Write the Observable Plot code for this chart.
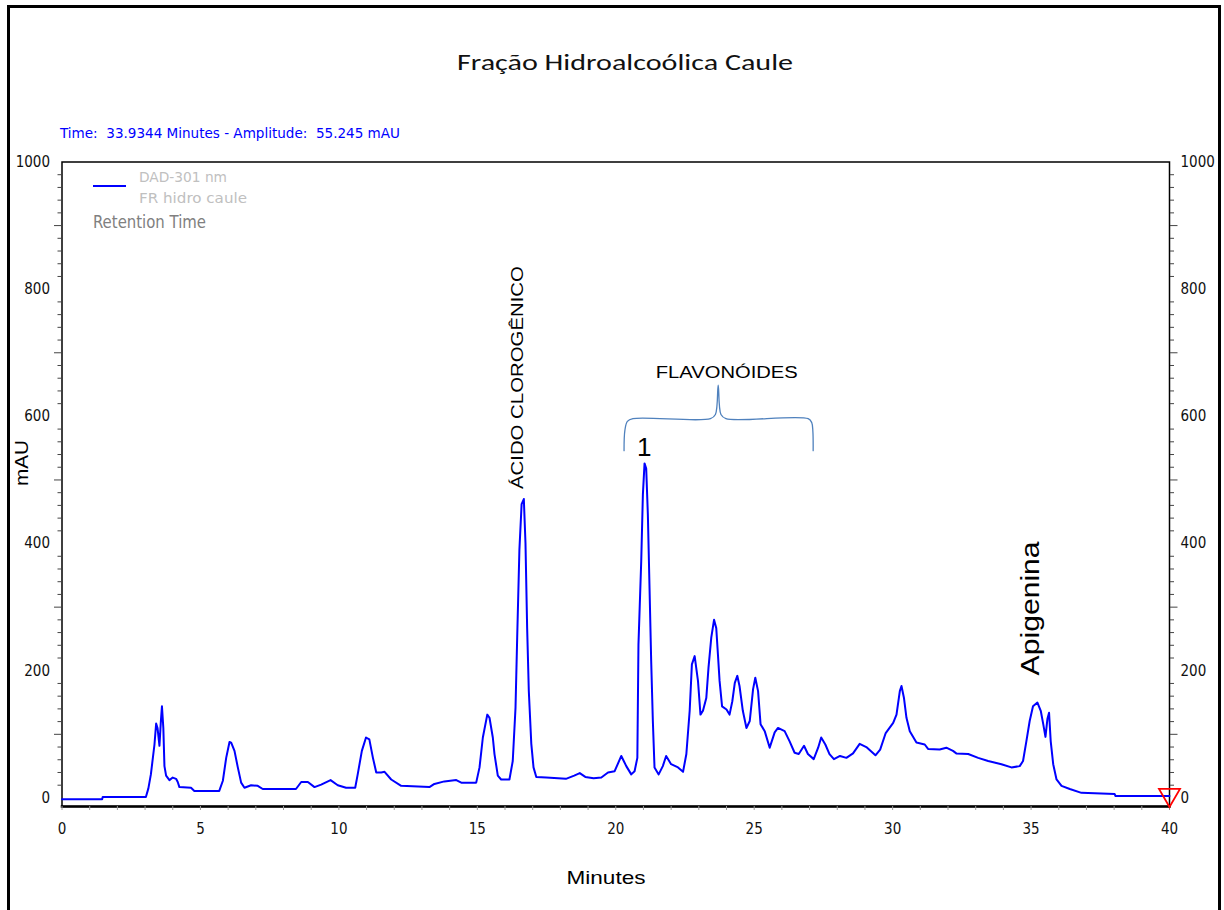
<!DOCTYPE html>
<html>
<head>
<meta charset="utf-8">
<script src="https://cdn.jsdelivr.net/npm/d3@7"></script>
<script src="https://cdn.jsdelivr.net/npm/@observablehq/plot@0.6"></script>
<style>
  body { margin: 0; background: #fff; }
  #wrap { position: relative; width: 1224px; height: 910px; overflow: hidden; background: #fff; }
  #border { position: absolute; left: 7px; top: 5px; width: 1208px; height: 960px; border: 3px solid #000; box-sizing: content-box; }
  #chart { position: absolute; left: 0; top: 0; }
</style>
</head>
<body>
<div id="wrap"><div id="border"></div><div id="chart"></div></div>
<script>
// ---- data (minutes, mAU) ----
const time = [0,1.45,1.47,3.03,3.12,3.21,3.34,3.40,3.45,3.52,3.57,3.61,3.66,3.70,3.76,3.88,4.00,4.12,4.18,4.24,4.66,4.78,5.68,5.81,5.93,6.05,6.11,6.23,6.35,6.47,6.59,6.83,7.07,7.25,8.45,8.64,8.88,9.12,9.36,9.70,9.96,10.26,10.59,10.68,10.83,10.98,11.10,11.23,11.35,11.53,11.65,11.89,12.25,13.27,13.45,13.81,14.24,14.42,14.96,15.08,15.20,15.36,15.44,15.56,15.62,15.74,15.86,16.16,16.28,16.38,16.44,16.52,16.60,16.68,16.74,16.80,16.86,16.95,17.03,17.13,17.49,18.2,18.5,18.7,18.9,19.2,19.48,19.72,19.96,20.20,20.38,20.56,20.68,20.78,20.82,20.92,20.98,21.04,21.10,21.16,21.22,21.28,21.34,21.40,21.55,21.70,21.82,22.00,22.25,22.43,22.55,22.67,22.75,22.85,22.97,23.06,23.15,23.27,23.35,23.45,23.55,23.63,23.69,23.75,23.84,24.00,24.11,24.21,24.30,24.39,24.47,24.59,24.72,24.84,24.96,25.04,25.14,25.23,25.38,25.56,25.74,25.86,26.10,26.28,26.46,26.61,26.80,26.94,27.15,27.31,27.42,27.57,27.72,27.88,28.10,28.33,28.57,28.81,29.05,29.38,29.55,29.75,30.02,30.14,30.26,30.32,30.41,30.50,30.62,30.86,31.16,31.28,31.70,31.94,32.18,32.30,32.73,33.09,33.45,33.93,34.29,34.59,34.71,34.83,34.95,35.07,35.23,35.35,35.44,35.52,35.59,35.65,35.71,35.80,35.92,36.10,36.40,36.82,38.02,38.05,40.0];
const amplitude = [-2,-2,1.5,1.5,15,37,84,117,110,82,120,144,110,50,35,28,32,30,25,17,16,11,11,27,63,88,87,74,48,24,16,20,19,14,14,25,25,17,21,28,20,16,16,37,74,95,92,63,40,40,41,29,19,17,22,26,28,24,24,48,95,131,126,95,69,35,29,29,58,142,252,390,462,470,400,267,168,85,48,33,32,30,35,39,33,31,32,40,42,66,50,37,42,63,241,372,477,526,518,445,330,215,121,48,37,50,66,53,48,41,69,137,210,223,184,131,137,157,205,252,280,267,226,184,144,139,131,152,181,192,176,137,110,121,171,189,168,116,105,79,103,110,105,89,71,69,82,69,61,79,95,84,69,61,66,63,70,85,80,67,76,102,118,131,168,176,157,126,105,87,84,77,76,79,74,70,69,63,58,53,48,50,58,89,121,144,150,137,116,96,124,134,89,53,29,19,14,8,6,3,3];

// axis ticks
const xTickLabels = [0,5,10,15,20,25,30,35,40];
const xMinorTicks = d3.range(0, 41, 1);
const yTickLabels = [0,200,400,600,800,1000];
const yLongTicks = [100,300,500,700,900];
const yMinorTicks = d3.range(20, 1000, 20).filter(v => v % 100 !== 0);
const yDomain = [-13.5, 1000];

// annotations (data coordinates)
const rotatedLabels = ["ÁCIDO CLOROGÊNICO", "Apigenina"];
const rotatedLabelTime = [16.46, 35.0];
const rotatedLabelAmp = [661, 298];
const flatLabels = ["FLAVONÓIDES", "1"];
const flatLabelTime = [24.01, 21.03];
const flatLabelAmp = [668, 550];
const braceTime = [20.30, 20.33, 20.42, 20.62, 23.42, 23.60, 23.70, 23.80, 23.98, 26.95, 27.08, 27.12, 27.13];
const braceAmp  = [546, 578, 592, 596.4, 596.4, 603, 649, 603, 596.4, 596.4, 590, 576, 546];
const markerTime = [40];
const markerAmp = [0];

const narrow = "'Liberation Sans Narrow','DejaVu Sans Condensed','Arial Narrow',sans-serif";
const arial = "'Liberation Sans',Arial,sans-serif";
const noText = () => "";
const plain = (d) => String(d);

const chart = Plot.plot({
  width: 1224,
  height: 910,
  marginLeft: 61.5,
  marginRight: 55,
  marginTop: 161.5,
  marginBottom: 104,
  x: {domain: [0, 40]},
  y: {domain: yDomain},
  style: {fontFamily: narrow, fontSize: "15px", color: "#000", background: "transparent", overflow: "visible"},
  marks: [
    Plot.frame({stroke: "#000", strokeWidth: 1.5}),
    Plot.frame({anchor: "bottom", stroke: "#000", strokeWidth: 2.5}),
    // x axis
    Plot.axisX({ticks: xMinorTicks, tickSize: 4, stroke: "#999", strokeOpacity: 1, tickFormat: noText, label: null}),
    Plot.axisX({ticks: xTickLabels, tickSize: 0, tickPadding: 17, tickFormat: plain, label: null, fill: "#111"}),
    // left y axis
    Plot.axisY({anchor: "left", ticks: yMinorTicks, tickSize: 4, stroke: "#444", strokeOpacity: 1, tickFormat: noText, label: null}),
    Plot.axisY({anchor: "left", ticks: yLongTicks, tickSize: 7.5, stroke: "#444", strokeOpacity: 1, tickFormat: noText, label: null}),
    Plot.axisY({anchor: "left", ticks: yTickLabels, tickSize: 0, tickPadding: 12, tickFormat: plain, label: null, fill: "#111"}),
    // right y axis
    Plot.axisY({anchor: "right", ticks: yMinorTicks, tickSize: 4, stroke: "#444", strokeOpacity: 1, tickFormat: noText, label: null}),
    Plot.axisY({anchor: "right", ticks: yLongTicks, tickSize: 7.5, stroke: "#444", strokeOpacity: 1, tickFormat: noText, label: null}),
    Plot.axisY({anchor: "right", ticks: yTickLabels, tickSize: 0, tickPadding: 11, tickFormat: plain, label: null, fill: "#111"}),
    // signal
    Plot.line(time, {x: time, y: amplitude, stroke: "#0000ff", strokeWidth: 2}),
    // end marker
    Plot.dot(markerTime, {x: markerTime, y: markerAmp, symbol: "triangle", rotate: 180, r: 7.8, dy: -3, stroke: "#ff0000", strokeWidth: 1.8, fill: "none"}),
    // brace
    Plot.line(braceTime, {x: braceTime, y: braceAmp, curve: "catmull-rom", stroke: "#4f81bd", strokeWidth: 1.3}),
    // annotations
    Plot.text(rotatedLabels, {x: rotatedLabelTime, y: rotatedLabelAmp, text: rotatedLabels, rotate: -90, fontFamily: arial, fontSize: (d) => d === "Apigenina" ? 26 : 17, fill: "#000", textAnchor: "middle", lineAnchor: "middle"}),
    Plot.text(flatLabels, {x: flatLabelTime, y: flatLabelAmp, text: flatLabels, fontFamily: arial, fontSize: (d) => d === "1" ? 26 : 16, fill: "#000", textAnchor: "middle", lineAnchor: "middle"})
  ]
});
document.getElementById("chart").appendChild(chart);

// text lengths to match the stretched reference lettering
const lengths = {"ÁCIDO CLOROGÊNICO": 223, "Apigenina": 134, "FLAVONÓIDES": 142};
d3.select(chart).selectAll("text").each(function() {
  const L = lengths[this.textContent];
  if (L) { this.setAttribute("textLength", L); this.setAttribute("lengthAdjust", "spacingAndGlyphs"); }
});

// header, legend and axis titles
const svg = d3.select(chart);
const g = svg.append("g").attr("class", "overlay");
function addText(txt, x, y, opts) {
  const t = g.append("text").attr("x", x).attr("y", y).text(txt)
    .attr("dominant-baseline", "central")
    .attr("text-anchor", opts.anchor || "start")
    .attr("font-family", opts.family || narrow)
    .attr("font-size", opts.size)
    .attr("fill", opts.fill || "#000");
  if (opts.len) t.attr("textLength", opts.len).attr("lengthAdjust", "spacingAndGlyphs");
  if (opts.rotate) t.attr("transform", `rotate(${opts.rotate},${x},${y})`);
  return t;
}
addText("Fração Hidroalcoólica Caule", 625, 62, {anchor: "middle", family: "Carlito, 'Open Sans', Lato, sans-serif", size: 22, len: 336, fill: "#111"});
addText("Time:  33.9344 Minutes - Amplitude:  55.245 mAU", 60, 133, {size: 14, fill: "#0000ff", len: 340});
g.append("line").attr("x1", 93).attr("x2", 126).attr("y1", 186).attr("y2", 186).attr("stroke", "#0000ff").attr("stroke-width", 2);
addText("DAD-301 nm", 139, 177, {size: 14, fill: "#c0c0c0", len: 88});
addText("FR hidro caule", 139, 198, {size: 14, fill: "#c0c0c0", len: 108});
addText("Retention Time", 93, 222, {size: 17, fill: "#808080", len: 113});
addText("mAU", 22, 463, {anchor: "middle", family: arial, size: 18, rotate: -90, len: 46});
addText("Minutes", 606, 877, {anchor: "middle", family: arial, size: 19, len: 79});
</script>
</body>
</html>
